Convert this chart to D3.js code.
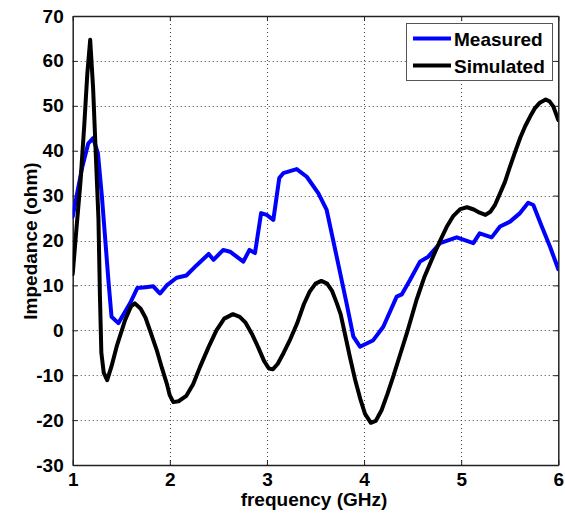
<!DOCTYPE html>
<html>
<head>
<meta charset="utf-8">
<script src="https://cdn.jsdelivr.net/npm/d3@7"></script>
<style>
  html, body { margin: 0; padding: 0; background: #fff; }
  svg { display: block; }
  text { font-family: "Liberation Sans", Arial, sans-serif; font-weight: bold; fill: #000; }
</style>
</head>
<body>
<svg id="chart" width="565" height="516"></svg>
<script>
// Frequency axis (GHz) and impedance values (ohm) for each series
const measuredFreq = [1.00, 1.05, 1.10, 1.16, 1.21, 1.26, 1.30, 1.333, 1.37, 1.40, 1.47, 1.53, 1.59, 1.665, 1.75, 1.83, 1.88, 1.90, 1.968, 2.07, 2.17, 2.277, 2.40, 2.45, 2.55, 2.62, 2.757, 2.82, 2.877, 2.94, 2.997, 3.066, 3.127, 3.168, 3.306, 3.41, 3.53, 3.615, 3.718, 3.82, 3.89, 3.958, 4.095, 4.198, 4.336, 4.388, 4.473, 4.576, 4.661, 4.782, 4.954, 5.125, 5.19, 5.314, 5.40, 5.503, 5.606, 5.69, 5.743, 5.83, 5.915, 6.00];
const measuredVal  = [25.3, 31.0, 36.5, 41.6, 42.8, 39.4, 30.0, 20.8, 10.5, 3.0, 1.6, 3.8, 6.0, 9.4, 9.6, 9.8, 8.6, 8.2, 10.0, 11.7, 12.2, 14.5, 17.0, 15.7, 17.9, 17.5, 15.3, 17.9, 17.2, 26.1, 25.7, 24.6, 33.9, 35.0, 35.9, 34.2, 30.5, 26.8, 16.4, 6.0, -1.4, -3.65, -2.2, 0.8, 7.5, 8.0, 11.2, 15.3, 16.4, 19.4, 20.7, 19.4, 21.6, 20.7, 23.1, 24.2, 26.1, 28.4, 27.9, 23.1, 18.6, 13.6];

const simulatedFreq = [1.00, 1.04, 1.08, 1.12, 1.15, 1.18, 1.21, 1.24, 1.265, 1.28, 1.295, 1.32, 1.355, 1.40, 1.453, 1.54, 1.60, 1.64, 1.70, 1.75, 1.80, 1.865, 1.92, 1.968, 2.00, 2.036, 2.09, 2.17, 2.24, 2.31, 2.40, 2.48, 2.56, 2.65, 2.72, 2.78, 2.85, 2.91, 2.97, 3.02, 3.06, 3.11, 3.17, 3.24, 3.31, 3.38, 3.44, 3.50, 3.56, 3.62, 3.67, 3.72, 3.76, 3.81, 3.855, 3.91, 3.96, 4.01, 4.07, 4.12, 4.18, 4.24, 4.30, 4.37, 4.44, 4.54, 4.62, 4.71, 4.78, 4.85, 4.92, 4.99, 5.06, 5.13, 5.19, 5.25, 5.30, 5.35, 5.40, 5.45, 5.50, 5.56, 5.61, 5.66, 5.71, 5.76, 5.81, 5.87, 5.91, 5.95, 6.00];
const simulatedVal  = [12.5, 23.0, 33.0, 46.0, 57.0, 64.7, 54.0, 38.0, 25.0, 8.0, -5.0, -9.5, -11.1, -8.0, -3.6, 2.3, 5.3, 6.0, 4.8, 2.8, -0.3, -4.4, -8.5, -11.8, -14.5, -16.0, -15.8, -14.6, -12.0, -8.2, -3.7, 0.0, 2.6, 3.6, 3.0, 1.7, -1.0, -3.8, -6.8, -8.5, -8.7, -7.5, -5.1, -2.0, 1.5, 5.8, 8.6, 10.4, 11.0, 10.4, 8.8, 6.0, 3.5, -1.5, -6.0, -11.2, -15.2, -18.6, -20.6, -20.2, -17.8, -14.2, -10.3, -5.5, -0.7, 6.75, 11.8, 16.4, 19.8, 23.0, 25.5, 27.0, 27.4, 26.9, 26.2, 25.7, 26.4, 28.0, 30.5, 33.0, 36.3, 40.0, 43.0, 45.5, 47.6, 49.5, 50.7, 51.4, 51.0, 49.8, 46.8];

const xTicks = [1, 2, 3, 4, 5, 6];
const yTicks = [-30, -20, -10, 0, 10, 20, 30, 40, 50, 60, 70];
const seriesNames = ["Measured", "Simulated"];
const seriesColors = ["#0000ff", "#000000"];

const svg = d3.select("#chart");
const plotLeft = 72.7, plotRight = 558.3, plotTop = 16, plotBottom = 465;

const x = d3.scaleLinear().domain([1, 6]).range([plotLeft, plotRight]);
const y = d3.scaleLinear().domain([-30, 70]).range([plotBottom, plotTop]);

// Dotted grid
const grid = svg.append("g").attr("stroke", "#444").attr("stroke-width", 1).attr("stroke-dasharray", "1,3");
grid.selectAll("line.gx").data(xTicks.slice(1, -1)).join("line")
  .attr("x1", d => Math.round(x(d)) + 0.5).attr("x2", d => Math.round(x(d)) + 0.5)
  .attr("y1", plotTop).attr("y2", plotBottom);
grid.selectAll("line.gy").data(yTicks.slice(1, -1)).join("line")
  .attr("y1", d => Math.round(y(d)) + 0.5).attr("y2", d => Math.round(y(d)) + 0.5)
  .attr("x1", plotLeft).attr("x2", plotRight);

// Axes with inward ticks on all four sides; plain hyphen for negatives
const plainNum = d => String(d);
const tickLen = 5;
const axisBottom = svg.append("g").attr("transform", `translate(0,${plotBottom})`)
  .call(d3.axisBottom(x).tickValues(xTicks).tickFormat(plainNum).tickSizeInner(-tickLen).tickSizeOuter(0).tickPadding(12));
const axisTop = svg.append("g").attr("transform", `translate(0,${plotTop})`)
  .call(d3.axisTop(x).tickValues(xTicks).tickSizeInner(-tickLen).tickSizeOuter(0).tickFormat(""));
const axisLeft = svg.append("g").attr("transform", `translate(${plotLeft},0)`)
  .call(d3.axisLeft(y).tickValues(yTicks).tickFormat(plainNum).tickSizeInner(-tickLen).tickSizeOuter(0).tickPadding(9));
const axisRight = svg.append("g").attr("transform", `translate(${plotRight},0)`)
  .call(d3.axisRight(y).tickValues(yTicks).tickSizeInner(-tickLen).tickSizeOuter(0).tickFormat(""));

[axisBottom, axisTop, axisLeft, axisRight].forEach(g => {
  g.select(".domain").attr("stroke", "#222").attr("stroke-width", 1.5);
  g.selectAll(".tick line").attr("stroke", "#222").attr("stroke-width", 1);
  g.selectAll(".tick text").attr("font-size", 19).attr("fill", "#000");
});
axisBottom.selectAll(".tick text").attr("dy", "0.71em").attr("y", 8);

// Axis labels
svg.append("text").attr("x", 314).attr("y", 506).attr("text-anchor", "middle")
  .attr("font-size", 19).text("frequency (GHz)");
svg.append("text").attr("transform", "translate(30,241) rotate(-90)").attr("text-anchor", "middle")
  .attr("dy", "0.35em").attr("font-size", 19).text("Impedance (ohm)");

// Data lines
svg.append("clipPath").attr("id", "plotClip").append("rect")
  .attr("x", plotLeft).attr("y", plotTop).attr("width", plotRight - plotLeft).attr("height", plotBottom - plotTop);

const line = d3.line().x(d => x(d[0])).y(d => y(d[1]));
const series = [
  d3.zip(measuredFreq, measuredVal),
  d3.zip(simulatedFreq, simulatedVal)
];
const plot = svg.append("g").attr("clip-path", "url(#plotClip)");
series.forEach((pts, i) => {
  plot.append("path").datum(pts)
    .attr("fill", "none").attr("stroke", seriesColors[i]).attr("stroke-width", 4)
    .attr("stroke-linejoin", "round").attr("stroke-linecap", "round")
    .attr("d", line);
});

// Legend
const legend = svg.append("g");
legend.append("rect").attr("x", 406.5).attr("y", 23.5).attr("width", 146).attr("height", 57)
  .attr("fill", "#fff").attr("stroke", "#555").attr("stroke-width", 1);
seriesNames.forEach((name, i) => {
  const ly = 38.5 + i * 27;
  legend.append("line").attr("x1", 413).attr("x2", 451).attr("y1", ly).attr("y2", ly)
    .attr("stroke", seriesColors[i]).attr("stroke-width", 4);
  legend.append("text").attr("x", 454).attr("y", ly + 7.5).attr("font-size", 19).text(name);
});
</script>
</body>
</html>
